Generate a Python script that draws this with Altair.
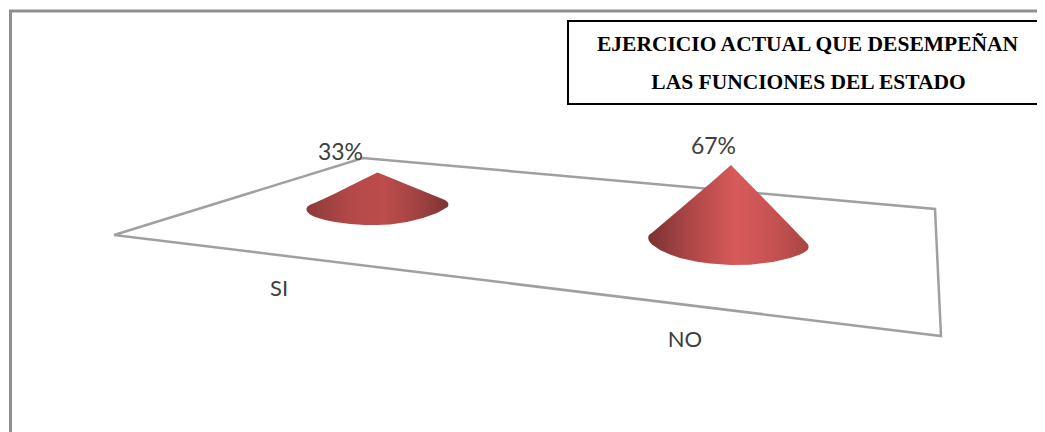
import altair as alt
import pandas as pd

# Pixel-space reading of the picture (x to the right, y downward)
categories = ["SI", "NO"]
percent = [33, 67]
value_label_x = [340.5, 713.5]
value_label_y = [153, 147]
category_label_y = [289, 340]
category_label_x = [279, 685]

title_lines = ["EJERCICIO ACTUAL QUE DESEMPEÑAN", "LAS FUNCIONES DEL ESTADO"]
title_x = [807.5, 808.5]
title_y = [45, 82.5]

frame_x = [10.5, 10.5, 1037]
frame_y = [432, 11, 11]
box_x = [1037, 568, 568, 1037]
box_y = [21, 21, 104, 104]
floor_x = [114, 363, 935, 941, 114]
floor_y = [235, 158, 209, 336, 235]

si_x = [306.5, 307.5, 310, 315, 325, 335, 350, 365, 377.5, 390, 407, 423, 437, 445, 447.5, 448.3]
si_top = [208.5, 206.5, 204.7, 202.8, 198.3, 193.5, 186, 178.5, 172.5, 177.5, 184.5, 191, 196.7, 200, 202, 203.5]
si_bottom = [210, 212, 214.5, 217, 220, 222, 224, 225, 225, 224.5, 222, 218, 213, 208.5, 207, 205.5]

no_x = [648.3, 649, 652, 660, 670, 680, 697, 710, 731, 750, 773, 790, 800, 804, 807.5, 808.5]
no_top = [236.5, 235, 232.7, 225.9, 217.5, 209, 194.5, 183.5, 165, 184.5, 208, 225.5, 236, 240, 243.7, 245.5]
no_bottom = [238.5, 241, 244.5, 250, 254.5, 258, 261.7, 263.5, 265, 264.7, 262, 258, 254.5, 252.5, 250, 248]

W, H = 1029, 424
xs = alt.Scale(domain=[8, 1037], range=[0, W])
ys = alt.Scale(domain=[8, 432], range=[0, H])
X = lambda f="x": alt.X(f"{f}:Q", scale=xs, axis=None)
Y = lambda f="y": alt.Y(f"{f}:Q", scale=ys, axis=None)


def path(px, py, color, width, join="miter"):
    df = pd.DataFrame({"x": px, "y": py, "i": range(len(px))})
    return alt.Chart(df).mark_line(color=color, strokeWidth=width, strokeJoin=join, clip=False).encode(
        x=X(), y=Y(), order="i:Q")


def cone(px, top, bottom, stops):
    df = pd.DataFrame({"x": px, "y": top, "y2": bottom})
    grad = alt.Gradient(gradient="linear", x1=0, y1=0, x2=1, y2=0,
                        stops=[alt.GradientStop(offset=o, color=c) for o, c in stops])
    return alt.Chart(df).mark_area(color=grad, interpolate="linear").encode(
        x=X(), y=Y(), y2="y2:Q")


def texts(labels, px, py, size, font, color, weight="normal"):
    df = pd.DataFrame({"t": labels, "x": px, "y": py})
    return alt.Chart(df).mark_text(fontSize=size, font=font, color=color, fontWeight=weight,
                                   align="center", baseline="middle").encode(x=X(), y=Y(), text="t:N")


chart = alt.layer(
    path(frame_x, frame_y, "#8f8f8f", 3),
    path(box_x, box_y, "#000000", 2),
    path(floor_x, floor_y, "#a0a0a0", 2.5),
    cone(si_x, si_top, si_bottom, [(0, "#8c3a3a"), (0.3, "#b34848"), (0.55, "#bd4c4c"), (0.8, "#a04141"), (1, "#7a3434")]),
    cone(no_x, no_top, no_bottom, [(0, "#7a3232"), (0.25, "#ac4646"), (0.55, "#d85a5a"), (0.8, "#c45151"), (1, "#a84545")]),
    texts([f"{p}%" for p in percent], value_label_x, value_label_y, 23, "Lato", "#404040"),
    texts(categories, category_label_x, category_label_y, 22, "Lato", "#404040"),
    texts(title_lines, title_x, title_y, 21.5, "Liberation Serif", "#000000", "bold"),
).properties(width=W, height=H, padding=0, autosize="none", background="white").configure_view(stroke=None)

chart.save("out.html", embed_options={"renderer": "svg", "actions": False})
